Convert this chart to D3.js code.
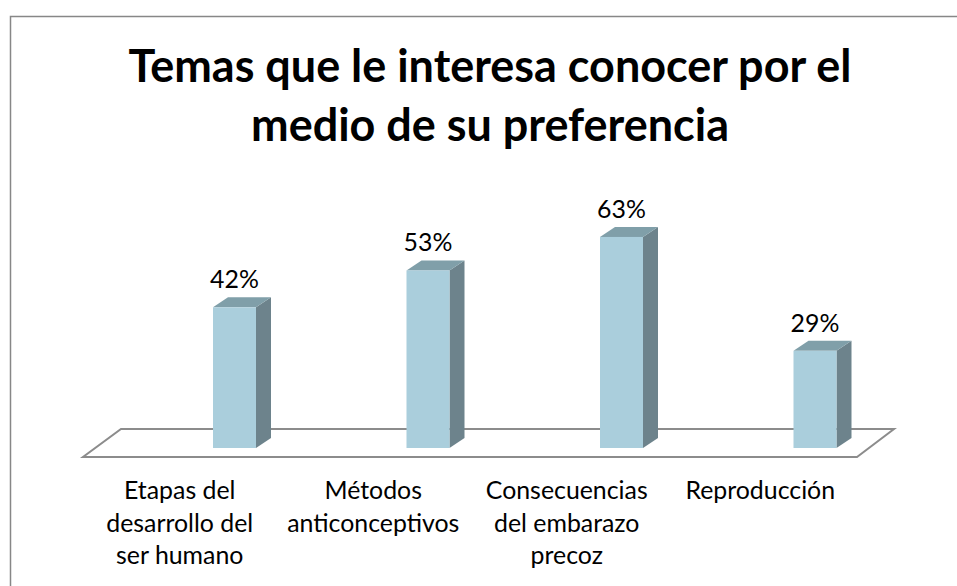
<!DOCTYPE html>
<html>
<head>
<meta charset="utf-8">
<script src="https://cdn.jsdelivr.net/npm/d3@7"></script>
<style>
  html, body { margin: 0; padding: 0; background: #fff; }
  svg { display: block; }
  text { font-family: Lato, "Open Sans", "Liberation Sans", sans-serif; fill: #000; }
</style>
</head>
<body>
<svg id="chart" width="957" height="586"></svg>
<script>
// ---- data ----
const titleLines = ["Temas que le interesa conocer por el", "medio de su preferencia"];
const categories = ["Etapas del desarrollo del ser humano", "Métodos anticonceptivos", "Consecuencias del embarazo precoz", "Reproducción"];
const categoryLines = [
  ["Etapas del", "desarrollo del", "ser humano"],
  ["Métodos", "anticonceptivos"],
  ["Consecuencias", "del embarazo", "precoz"],
  ["Reproducción"]
];
const values = [0.42, 0.53, 0.63, 0.29];
const valueLabels = ["42%", "53%", "63%", "29%"];

// ---- layout ----
const W = 957, H = 586;
const svg = d3.select("#chart");
svg.append("rect").attr("width", W).attr("height", H).attr("fill", "#fff");

// outer chart border (only left and top visible in the crop)
svg.append("path")
  .attr("d", "M10.5,600 L10.5,16.5 L1000,16.5")
  .attr("fill", "none").attr("stroke", "#878787").attr("stroke-width", 1.5);

const floorFront = 457, floorBack = 429;
const floorLeftFront = 83, floorRightFront = 857;
const depthX = 38; // floor depth offset
const barDX = 15, barDY = 10; // bar 3D depth
const barBase = 448;
const barW = 43;
const barShift = 54.75; // perspective shift of bar centre from label centre

const x = d3.scaleBand().domain(categories).range([floorLeftFront, floorRightFront]).paddingInner(0);
const y = d3.scaleLinear().domain([0, 1]).range([barBase, barBase - 335]);

// floor
svg.append("path")
  .attr("d", `M${floorLeftFront},${floorFront} L${floorRightFront},${floorFront} L${floorRightFront + depthX - 1},${floorBack} L${floorLeftFront + depthX},${floorBack} Z`)
  .attr("fill", "#fff").attr("stroke", "#8c8c8c").attr("stroke-width", 2);

const bars = svg.append("g").selectAll("g").data(categories).join("g");
bars.each(function(c, i) {
  const g = d3.select(this);
  const x0 = x(c) + x.bandwidth() / 2 + barShift - barW / 2;
  const top = y(values[i]);
  // side
  g.append("path")
    .attr("d", `M${x0 + barW},${top} L${x0 + barW + barDX},${top - barDY} L${x0 + barW + barDX},${barBase - barDY} L${x0 + barW},${barBase} Z`)
    .attr("fill", "#6d838c");
  // top
  g.append("path")
    .attr("d", `M${x0},${top} L${x0 + barDX},${top - barDY} L${x0 + barW + barDX},${top - barDY} L${x0 + barW},${top} Z`)
    .attr("fill", "#809fa9");
  // front
  g.append("rect")
    .attr("x", x0).attr("y", top).attr("width", barW).attr("height", barBase - top)
    .attr("fill", "#aacedc");
  // value label
  g.append("text")
    .attr("class", "val")
    .attr("x", x0 + barW / 2).attr("y", top - 19)
    .attr("text-anchor", "middle")
    .attr("font-size", 26.7)
    .text(valueLabels[i]);
});

// category labels
const catG = svg.append("g");
categories.forEach((c, i) => {
  const cx = x(c) + x.bandwidth() / 2;
  const t = catG.append("text")
    .attr("class", "cat")
    .attr("x", cx)
    .attr("y", 499)
    .attr("text-anchor", "middle")
    .attr("font-size", 26.7);
  categoryLines[i].forEach((ln, k) => {
    t.append("tspan").attr("x", cx).attr("y", 499 + k * 32.5).text(ln);
  });
});

// title
const title = svg.append("g");
titleLines.forEach((ln, k) => {
  title.append("text")
    .attr("class", "title")
    .attr("x", 490).attr("y", 82 + k * 59)
    .attr("text-anchor", "middle")
    .attr("font-weight", "bold")
    .attr("font-size", 48)
    .text(ln);
});

// fit substitute font widths to the reference (Calibri) widths
const t1 = svg.select("text.title").node();
const tw = t1.getComputedTextLength();
svg.selectAll("text.title").attr("font-size", 48 * 723 / tw);
const probe = catG.append("text").attr("font-size", 26.7).text("desarrollo del");
const pw = probe.node().getComputedTextLength();
probe.remove();
const catFs = 26.7 * 147 / pw;
svg.selectAll("text.cat").attr("font-size", catFs);
svg.selectAll("text.val").attr("font-size", catFs);
</script>
</body>
</html>
